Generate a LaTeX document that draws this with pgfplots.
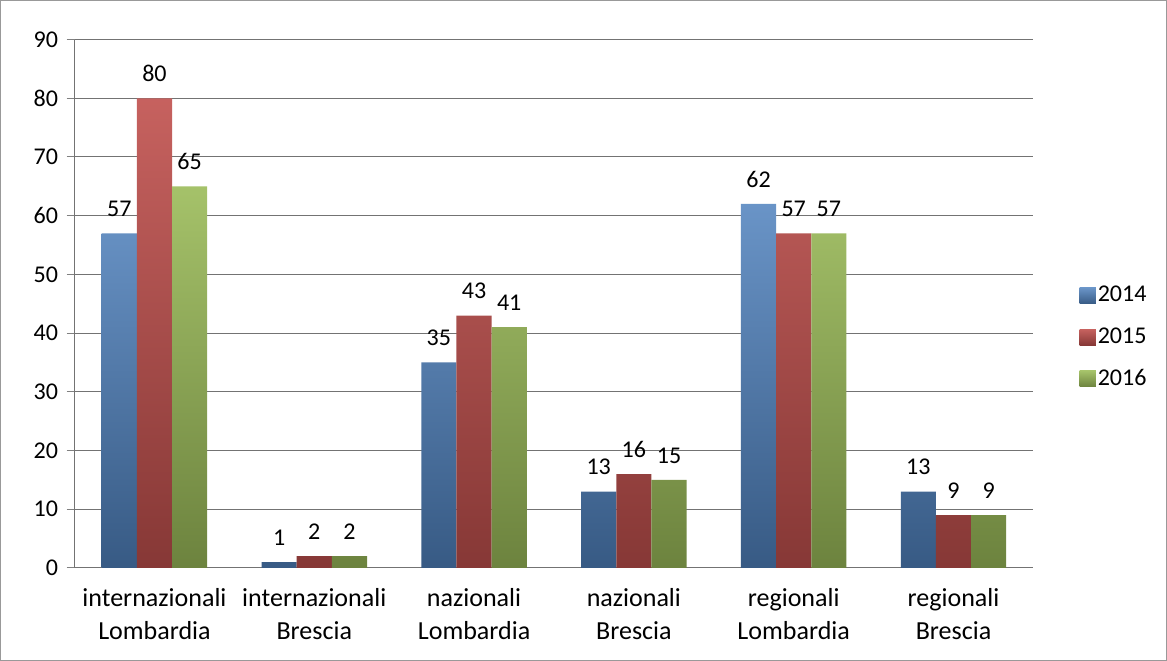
\documentclass[border=0pt]{standalone}
\usepackage{pgfplots}
\pgfplotsset{compat=1.18}
\usepackage{fontspec}
\setmainfont{Carlito}
\definecolor{cb}{HTML}{4F81BD}
\definecolor{cr}{HTML}{C0504D}
\definecolor{cg}{HTML}{9BBB59}
\begin{document}
\begin{tikzpicture}
\fontsize{25}{30}\selectfont
\begin{axis}[
 at={(0,0)},anchor=south west,
 scale only axis, width=958pt, height=528pt,
 ymin=0, ymax=90, ytick={0,10,...,90},
 xmin=-0.5, xmax=5.5,
 xtick={0,...,5},
 xticklabels={internazionali\\Lombardia,internazionali\\Brescia,nazionali\\Lombardia,nazionali\\Brescia,regionali\\Lombardia,regionali\\Brescia},
 xticklabel style={align=center,font=\fontsize{26}{33}\selectfont},
 yticklabel style={font=\fontsize{24}{28}\selectfont},
 /pgf/number format/assume math mode=true,
 major x tick style={draw=none},
 extra x ticks={-0.5,0.5,...,5.5}, extra x tick labels={},
 extra x tick style={major tick length=8pt, tick align=outside, tick style={gray,line width=1pt}},
 axis x line=bottom, axis y line=left,
 axis line style={gray!90!black,line width=1pt,-},
 ytick style={gray,line width=1pt},
 major tick length=8pt, tick align=outside,
 ymajorgrids, grid style={gray!90!black,line width=1pt},
 ybar=0pt, bar width=0.22,
 nodes near coords,
 every node near coord/.append style={font=\fontsize{24}{28}\selectfont,black,yshift=8pt},
 legend style={at={(1.045,0.436)},anchor=west,draw=none,font=\fontsize{24}{28}\selectfont,row sep=18pt},
 legend image code/.code={\fill[#1] (0pt,-8pt) rectangle (16pt,8pt);},
 x tick label style={yshift=-4pt},
]
\addplot[draw=none,top color=cb!85!white,bottom color=cb!70!black] coordinates {(0,57)(1,1)(2,35)(3,13)(4,62)(5,13)};
\addplot[draw=none,top color=cr!90!white,bottom color=cr!70!black] coordinates {(0,80)(1,2)(2,43)(3,16)(4,57)(5,9)};
\addplot[draw=none,top color=cg!90!white,bottom color=cg!70!black] coordinates {(0,65)(1,2)(2,41)(3,15)(4,57)(5,9)};
\legend{2014,2015,2016}
\end{axis}
\pgfresetboundingbox
\draw[gray!80,line width=1pt] (-74pt,-92pt) rectangle (1091pt,567pt);
\end{tikzpicture}
\end{document}
